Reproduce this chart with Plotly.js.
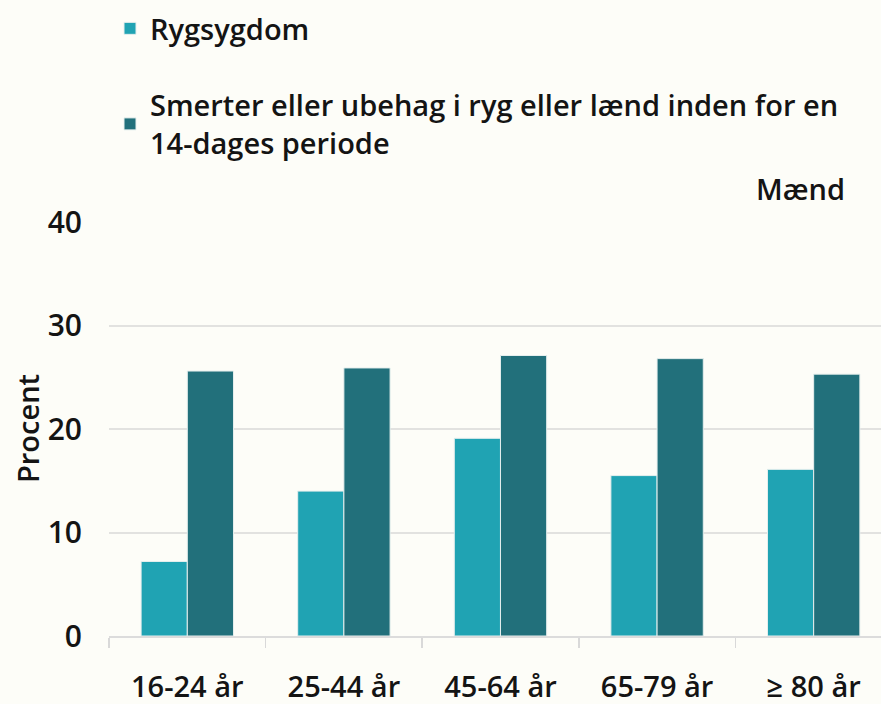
<!DOCTYPE html>
<html>
<head>
<meta charset="utf-8">
<script src="https://cdn.plot.ly/plotly-3.0.1.min.js"></script>
<style>html,body{margin:0;padding:0;background:#fdfdf8;}#chart{width:881px;height:704px;}</style>
</head>
<body>
<div id="chart"></div>
<script>
const categories = ["16-24 år", "25-44 år", "45-64 år", "65-79 år", "\u2265 80 år"];
const rygsygdom = [7.2, 14.0, 19.1, 15.5, 16.1];
const smerter = [25.6, 25.9, 27.1, 26.8, 25.3];
const seriesNames = ["Rygsygdom", "Smerter eller ubehag i ryg eller lænd inden for en<br>14-dages periode"];
const yTicks = [0, 10, 20, 30, 40];
const yTitle = "Procent";
const panelLabel = "Mænd";

const FONT = "Open Sans, sans-serif";
const TXT = "#141414";
const W = 600;

const traces = [
  {type: "bar", x: categories, y: rygsygdom, name: seriesNames[0], legendgroup: "a",
   marker: {color: "#20a3b3", line: {color: "#e6efee", width: 1}}},
  {type: "bar", x: categories, y: smerter, name: seriesNames[1], legendgroup: "b",
   marker: {color: "#22707b", line: {color: "#e6efee", width: 1}}}
];

const layout = {
  width: 881, height: 704,
  paper_bgcolor: "#fdfdf8", plot_bgcolor: "#fdfdf8",
  margin: {l: 109, r: 0, t: 222, b: 68, autoexpand: false},
  barmode: "group", bargap: 0.41, bargroupgap: 0,
  font: {family: FONT, size: 30, color: TXT, weight: W},
  showlegend: true,
  legend: {x: 110 / 881, xref: "container", xanchor: "left", y: 1 - 3 / 704, yref: "container", yanchor: "top",
           bgcolor: "rgba(0,0,0,0)", font: {family: FONT, size: 29, color: TXT, weight: W},
           tracegroupgap: 36, traceorder: "grouped", itemwidth: 30},
  xaxis: {type: "category", range: [-0.5, 4.43], tickson: "boundaries", ticks: "outside",
          ticklen: 10, tickcolor: "#d9d9d9", tickwidth: 1.5, showline: true, linecolor: "#dcdcdc", linewidth: 2,
          showgrid: false, tickangle: 0, tickfont: {family: FONT, size: 29, color: TXT, weight: W}, ticklabelstandoff: 24},
  yaxis: {range: [0, 40], tickvals: yTicks, ticktext: yTicks.map(String), showgrid: true, gridcolor: "#e2e2e0",
          gridwidth: 2, zeroline: false, showline: false, ticks: "outside", ticklen: 20, tickcolor: "rgba(0,0,0,0)",
          automargin: false,
          tickfont: {family: FONT, size: 30, color: TXT, weight: W}},
  annotations: [
    {text: yTitle, xref: "paper", yref: "paper", x: 0, y: 0.5, xanchor: "center", yanchor: "middle",
     xshift: -82, textangle: -90, showarrow: false, font: {family: FONT, size: 29, color: TXT, weight: W}},
    {text: panelLabel, xref: "paper", yref: "paper", x: 1, y: 1, xanchor: "right", yanchor: "bottom",
     xshift: -34, yshift: 12, showarrow: false, font: {family: FONT, size: 29, color: TXT, weight: W}}
  ]
};

Plotly.newPlot("chart", traces, layout, {displayModeBar: false, staticPlot: true});
</script>
</body>
</html>
